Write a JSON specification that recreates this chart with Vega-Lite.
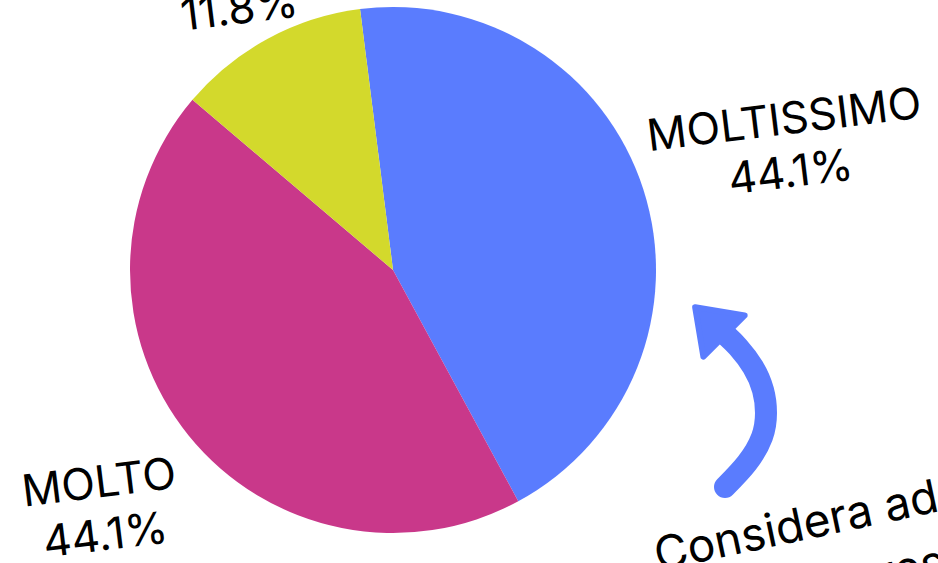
{
  "$schema": "https://vega.github.io/schema/vega-lite/v6.json",
  "width": 786,
  "height": 540,
  "padding": {"left": 0, "top": 0, "right": 152, "bottom": 23},
  "autosize": {"type": "none"},
  "background": "white",
  "config": {"view": {"stroke": null}},
  "datasets": {
    "pie": [
      {"cat": "MOLTISSIMO", "value": 44.1, "label": "MOLTISSIMO\n44.1%"},
      {"cat": "MOLTO", "value": 44.1, "label": "MOLTO\n44.1%"},
      {"cat": "POCO", "value": 11.8, "label": "POCO\n11.8%"}
    ],
    "arrow": [
      {"i": 0, "x": 725, "y": 487},
      {"i": 1, "x": 747, "y": 463},
      {"i": 2, "x": 762, "y": 437},
      {"i": 3, "x": 766, "y": 413},
      {"i": 4, "x": 763, "y": 390},
      {"i": 5, "x": 753, "y": 367},
      {"i": 6, "x": 738, "y": 347},
      {"i": 7, "x": 727, "y": 336}
    ],
    "head": [{"x": 716, "y": 328}],
    "note": [{"x": 658, "y": 571, "text": "Considera adeguato\nmolto interessante"}]
  },
  "layer": [
    {
      "data": {"name": "pie"},
      "mark": {"type": "arc", "outerRadius": 263},
      "encoding": {
        "theta": {"field": "value", "type": "quantitative", "stack": true, "scale": {"range": [-0.1257, 6.1575]}},
        "color": {"field": "cat", "type": "nominal", "scale": {"domain": ["MOLTISSIMO", "MOLTO", "POCO"], "range": ["#5A7CFE", "#C9388A", "#D3D92C"]}, "legend": null},
        "order": {"field": "cat", "type": "ordinal", "sort": "ascending"}
      }
    },
    {
      "data": {"name": "pie"},
      "mark": {"type": "text", "font": "Inter", "fontSize": 44, "angle": 353, "align": "center", "baseline": "middle", "lineBreak": "\n", "lineHeight": 53, "dy": -22, "color": "black",
        "radius": {"expr": "datum.cat === 'MOLTISSIMO' ? 414 : datum.cat === 'MOLTO' ? 375 : 330"}},
      "encoding": {
        "theta": {"field": "value", "type": "quantitative", "stack": true},
        "detail": {"field": "cat", "type": "nominal"},
        "order": {"field": "cat", "type": "ordinal", "sort": "ascending"},
        "text": {"field": "label", "type": "nominal"}
      }
    },
    {
      "data": {"name": "arrow"},
      "mark": {"type": "line", "color": "#5A7CFE", "strokeWidth": 22, "strokeCap": "round", "interpolate": "natural"},
      "encoding": {
        "x": {"field": "x", "type": "quantitative", "scale": {"domain": [0, 786], "range": [0, 786], "nice": false, "zero": false}, "axis": null},
        "y": {"field": "y", "type": "quantitative", "scale": {"domain": [0, 540], "range": [0, 540], "nice": false, "zero": false}, "axis": null},
        "order": {"field": "i", "type": "quantitative"}
      }
    },
    {
      "data": {"name": "head"},
      "mark": {"type": "point", "shape": "M0,-0.91L0.9,0.35L-0.9,0.35Z", "size": 4200, "angle": 315, "filled": true, "color": "#5A7CFE", "stroke": "#5A7CFE", "strokeWidth": 6, "strokeJoin": "round", "opacity": 1},
      "encoding": {
        "x": {"field": "x", "type": "quantitative"},
        "y": {"field": "y", "type": "quantitative"}
      }
    },
    {
      "data": {"name": "note"},
      "mark": {"type": "text", "font": "Inter", "fontSize": 46, "angle": 348, "align": "left", "baseline": "alphabetic", "lineBreak": "\n", "lineHeight": 65, "color": "black"},
      "encoding": {
        "x": {"field": "x", "type": "quantitative"},
        "y": {"field": "y", "type": "quantitative"},
        "text": {"field": "text", "type": "nominal"}
      }
    }
  ]
}
